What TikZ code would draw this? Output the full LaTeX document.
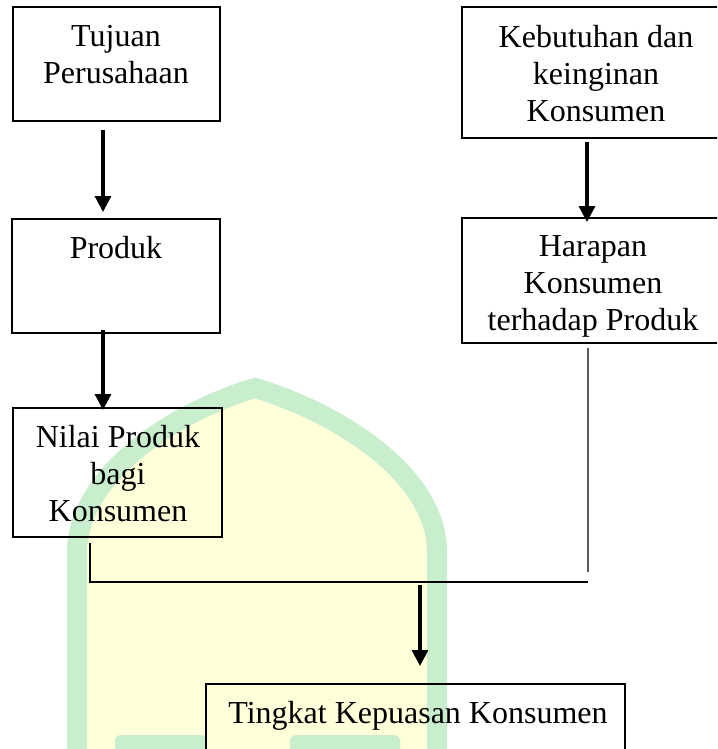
\documentclass[tikz,border=0pt]{standalone}
\usepackage{fontspec}
\setmainfont{Liberation Serif}
\usetikzlibrary{arrows.meta,calc}
\definecolor{wmgreen}{RGB}{200,238,206}
\definecolor{wmyellow}{RGB}{255,255,218}
\definecolor{connGray}{RGB}{90,90,90}
\begin{document}
\begin{tikzpicture}[x=1pt,y=-1pt,
  box/.style={draw, line width=1.4pt, rectangle, inner sep=0pt, outer sep=0pt, anchor=north west},
  txt/.style={font=\fontsize{32}{37}\selectfont, align=center, inner sep=0pt},
  arr/.style={line width=3.2pt, -{Triangle[width=16pt,length=16pt]}},
  conn/.style={line width=1.5pt},
  conngray/.style={line width=1.8pt, draw=connGray}]
\clip (0,0) rectangle (717,749);
\fill[white] (0,0) rectangle (717,749);
% watermark
\draw[line width=20pt, draw=wmgreen, fill=wmyellow]
  (77,770) -- (77,550) .. controls (80,470) and (180,410) .. (255,388)
  .. controls (330,410) and (435,470) .. (437,550) -- (437,770);
\fill[wmgreen, rounded corners=6pt] (115,735) rectangle (207,770);
\fill[wmgreen, rounded corners=6pt] (290,735) rectangle (400,770);
% boxes
\node[box, minimum width=207pt, minimum height=114pt] (b1) at (13,7) {};
\node[box, minimum width=208pt, minimum height=114pt] (b2) at (12,219) {};
\node[box, minimum width=209pt, minimum height=129pt] (b3) at (13,408) {};
\node[box, minimum width=268pt, minimum height=131pt] (b4) at (462,7) {};
\node[box, minimum width=268pt, minimum height=125pt] (b5) at (462,218) {};
\node[box, minimum width=419pt, minimum height=120pt] (b6) at (206,684) {};
% texts
\node[txt, anchor=north] (t1) at (116,25) {Tujuan\\Perusahaan};
\node[txt, anchor=base] (t2) at (116,258) {Produk};
\node[txt, anchor=north] (t3) at (118,425) {Nilai Produk\\bagi\\Konsumen};
\node[txt, anchor=north] (t4) at (596,25) {Kebutuhan dan\\keinginan\\Konsumen};
\node[txt, anchor=north] (t5) at (593,235) {Harapan\\Konsumen\\terhadap Produk};
\node[txt, anchor=base] (t6) at (418,723) {Tingkat Kepuasan Konsumen};
% connectors
\coordinate (j1) at (588,572);
\coordinate (j2) at (588,582);
\coordinate (j3) at (420,585);
\draw[arr] ($(b1.south west)+(90,9)$) -- ($(b2.north west)+(91,-7)$);
\draw[arr] ($(b2.south west)+(91,-3)$) -- ($(b3.north west)+(90,2)$);
\draw[arr] ($(b4.south west)+(125,4)$) -- ($(b5.north west)+(125,4)$);
\draw[conngray] ($(b5.south west)+(126,5)$) -- (j1);
\draw[conn] ($(b3.south west)+(77,6)$) |- (j2);
\draw[arr] (j3) -- ($(b6.north west)+(214,-18)$);
\end{tikzpicture}
\end{document}
